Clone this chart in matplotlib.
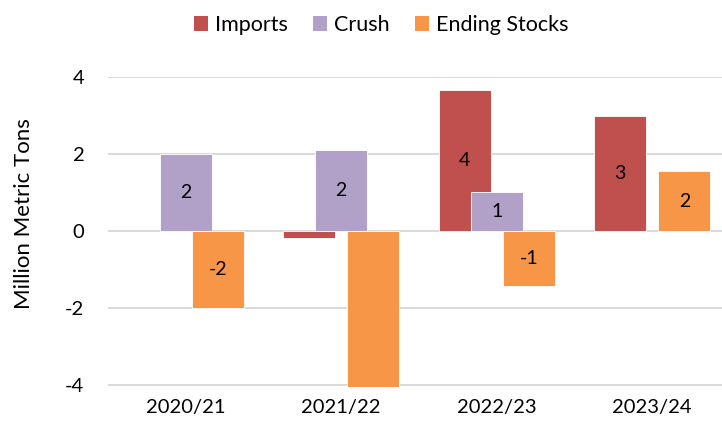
import matplotlib
matplotlib.use("Agg")
import matplotlib.pyplot as plt
import numpy as np
from matplotlib.patches import Patch

plt.rcParams['font.family'] = ['Lato', 'DejaVu Sans']

categories = ["2020/21", "2021/22", "2022/23", "2023/24"]
imports = [0.0, -0.18, 3.66, 3.0]
crush = [2.0, 2.1, 1.01, 0.0]
ending = [-2.0, -4.1, -1.43, 1.56]
imports_lbl = ["", "", "4", "3"]
crush_lbl = ["2", "2", "1", ""]
ending_lbl = ["-2", "", "-1", "2"]
yticks = [-4, -2, 0, 2, 4]

colors = {"Imports": "#C0504D", "Crush": "#B1A0C7", "Ending Stocks": "#F79646"}

fig = plt.figure(figsize=(7.22, 4.25), dpi=100)
ax = fig.add_axes([108/722, 1-387/425, 1-108/722, (387-77)/425])

x = np.arange(len(categories))
w = 0.335
off = 0.206
series = [("Imports", imports, imports_lbl, -off),
          ("Crush", crush, crush_lbl, 0.0),
          ("Ending Stocks", ending, ending_lbl, off)]
for z, (name, vals, lbls, o) in enumerate(series):
    idx = [i for i, v in enumerate(vals) if v != 0]
    xs = x[idx] + o
    vs = [vals[i] for i in idx]
    bars = ax.bar(xs, vs, width=w, color=colors[name], edgecolor="white",
                  linewidth=0.6, zorder=2 + z)
    for b, i in zip(bars, idx):
        t = lbls[i]
        if t:
            ax.text(b.get_x() + b.get_width()/2, vals[i]/2, t, ha="center", va="center",
                    fontsize=14, color="black", zorder=10)

ax.set_xlim(-0.5, -0.5 + 614/155.5)
ax.set_ylim(-4.05, 4.0)
ax.set_yticks(yticks)
ax.set_yticklabels([str(t) for t in yticks])
ax.set_xticks(x)
ax.set_xticklabels(categories)
ax.grid(axis="y", color="#D9D9D9", linewidth=1.4, zorder=0)
ax.set_axisbelow(True)
for s in ax.spines.values():
    s.set_visible(False)
ax.tick_params(axis="both", length=0, labelsize=14.5, colors="black")
ax.tick_params(axis="y", pad=17)
ax.tick_params(axis="x", pad=9)
ax.set_ylabel("Million Metric Tons", fontsize=16, color="black")
ax.yaxis.set_label_coords(-0.12, 0.56)

handles = [Patch(facecolor=c, label=n) for n, c in colors.items()]
fig.legend(handles=handles, loc="center", bbox_to_anchor=(0.528, 1-25/425), ncol=3,
           frameon=False, fontsize=15.5, handlelength=0.65, handleheight=0.65,
           handletextpad=0.3, columnspacing=1.2)

fig.savefig("out.png", dpi=100)
